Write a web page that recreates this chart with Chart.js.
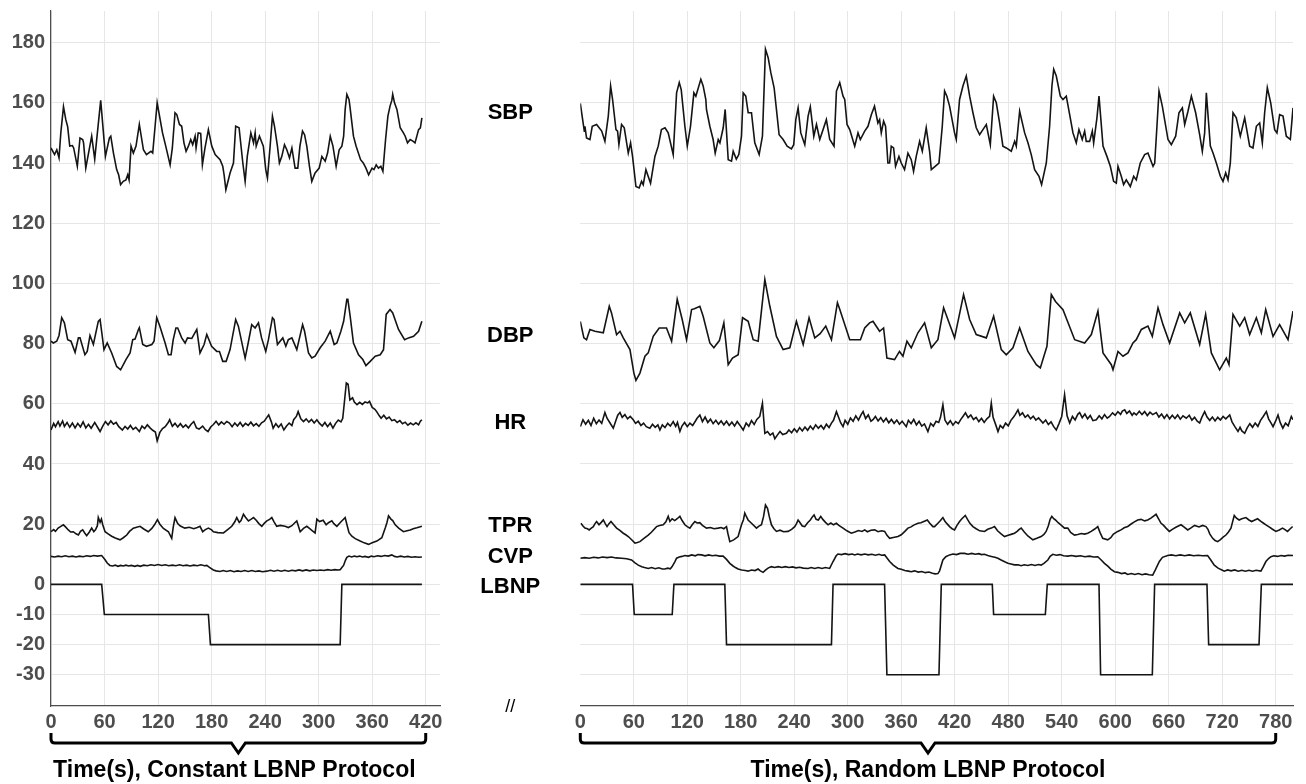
<!DOCTYPE html>
<html>
<head>
<meta charset="utf-8">
<title>Constant vs Random LBNP</title>
<script src="https://cdn.jsdelivr.net/npm/chart.js@4.4.1/dist/chart.umd.min.js"></script>
<style>
  body { margin: 0; background: #fff; }
  #wrap { position: relative; width: 1306px; height: 784px; }
  canvas { position: absolute; top: 0; }
  #cvLeft { left: 0; }
  #cvRight { left: 470px; }
</style>
</head>
<body>
<div id="wrap">
  <canvas id="cvLeft" width="450" height="784"></canvas>
  <canvas id="cvRight" width="836" height="784"></canvas>
</div>
<script>
// tick values
const yTickValues = [-30, -20, -10, 0, 20, 40, 60, 80, 100, 120, 140, 160, 180];
const leftTicksX = [0, 60, 120, 180, 240, 300, 360, 420];
const rightTicksX = [0, 60, 120, 180, 240, 300, 360, 420, 480, 540, 600, 660, 720, 780];

// labels in the middle and the level where they sit
const seriesNames = ["SBP", "DBP", "HR", "TPR", "CVP", "LBNP"];
const nameLevels = [156.5, 82.5, 53.7, 19.4, 9.1, -0.9];

// ---- constant protocol (time s, value) ----
const sbpLeft = [[0,145],[4,142.8],[6.5,144.4],[9,141.7],[11,150],[14,158.7],[16.6,154.4],[18.7,152],[21,145.6],[24,145.8],[25.4,145],[29.5,138.9],[32.5,148.3],[35.5,147.8],[36.5,146.7],[39,138.3],[45.6,148.9],[49,141.3],[55.7,160.8],[61,142.2],[65.4,148.3],[67,148.9],[70,143.3],[73.6,137.8],[75.8,136.1],[78,132.8],[81,133.9],[84,134.4],[86,136.1],[87.5,134.4],[89.7,145.6],[92.3,143.3],[95.3,145.6],[99,152.8],[103.6,144.4],[107,142.8],[112,143.9],[114,143.3],[119,160],[125,150],[128.6,145.6],[133.5,139.4],[136,145],[139,156.7],[141,156.1],[144,152.8],[146.5,152.2],[149,146.7],[151.4,143.9],[154,145.6],[156.6,147.8],[158.8,146.1],[161.5,148.9],[162.6,145],[165,150],[167.8,149.8],[169.7,139.4],[172.6,145],[176.4,151.1],[180.2,145.6],[184,142.8],[189.5,141.1],[192.5,138.9],[194,136.1],[196,131.1],[200.7,136.7],[204.5,140],[207,152.2],[210.8,151.7],[215,140],[217.6,133.9],[220,142.2],[224,150],[227,146.7],[228.8,150],[230,145.6],[233.6,148.9],[238,145.6],[240.7,137.8],[242.6,135],[245.6,145.6],[248.2,155.6],[250.5,152.2],[253.8,145.6],[256,140],[258.7,142.2],[261.7,146.1],[264.3,144.4],[267.3,141.7],[270,145],[273.6,138.3],[276.6,138.3],[279,145.6],[281.9,150.6],[284.2,149.4],[286.7,145.6],[289.7,138.9],[292.3,133.9],[296,136.7],[300.6,138.3],[303.6,142.2],[307.3,140.6],[310,143.3],[313,148.9],[316,145.6],[319.6,138.9],[323,144.4],[326,145.6],[328,148.9],[329.7,157.8],[331.6,162.8],[334,161.1],[335,158.9],[339,148.9],[342,145.6],[347,141.1],[350,140],[353,138.3],[356,136.1],[359.8,138.3],[362,137.8],[364.5,139.4],[367,138.3],[369.7,138.9],[372,137.2],[375,147.8],[377.6,155.6],[380,158.9],[382,160.8],[383,162.8],[385,160],[387.7,157.8],[391.4,151.7],[395,150],[397,148.9],[399.6,146.7],[402.6,147.8],[406,147.2],[408,146.7],[412,151.1],[414,151.7],[415.7,155]];
const dbpLeft = [[0,80.8],[2.6,80.2],[6.4,80.8],[9,82.7],[12,88.6],[15,86.9],[18.7,81.3],[22.4,80.8],[27,77.1],[30.7,81.9],[32.5,81.9],[38,76.3],[40.6,77.4],[43.7,82.7],[47.5,79.7],[53,87.4],[55,88],[59.4,78],[63,80.2],[68,76.9],[73.6,72.4],[78,71.3],[84,74.7],[88.6,76.9],[91.6,81.3],[94.2,81.5],[98,84.7],[99,85.3],[102.8,79.7],[107,79.1],[113,79.7],[115.5,80.8],[118.5,88.6],[122,85.8],[127.9,80.2],[131.6,76.3],[134.6,76.3],[137,81.3],[140,85.2],[142,85.2],[146.5,81.9],[150.3,80.2],[153,81.9],[157.8,81.7],[163.4,84.7],[167,76.9],[171.6,79.7],[174.6,83],[180,79.1],[185.8,77.4],[188.8,77.4],[192.5,74.1],[196.3,74.1],[200.7,78],[207,88],[210,85.8],[217.6,75.2],[221,80.2],[225,86.3],[228.8,85.2],[232.5,86.9],[236,81.9],[240.7,77.4],[243.7,81.3],[248.2,88.6],[250,88],[253.8,79.7],[259.8,81.9],[263.2,79.1],[266,81.3],[270,81.9],[275.5,78],[282,86.3],[284.2,84.1],[288.6,76.9],[292.3,75.2],[296,75.8],[301.7,78.6],[307.3,80.8],[313,84.1],[317.4,79.7],[320.4,80.2],[324.9,84.1],[328,87.4],[331.6,94.7],[332.7,94.7],[335.3,89.1],[339,80.2],[344.7,76.3],[349.5,74.7],[353,72.7],[357.8,74.1],[363.4,75.8],[369,76.3],[372.7,78],[375.7,89.7],[380,91.3],[383,90.2],[389.5,84.7],[396.3,81.3],[400.7,81.9],[406.4,82.4],[412,84.1],[415.7,87.4]];
const hrLeft = [[0,51.3],[3,53.5],[5,52.4],[8,54.1],[10,52.6],[13,54.3],[15,52.5],[18,53.8],[21,52.2],[24,53.6],[27,52],[30,53.5],[33,52.3],[36,54],[39,52],[42,53.2],[45,51.9],[49,53.8],[52,52.3],[55,50.8],[58,52.6],[61,54.1],[64,53],[67,54.3],[70,53.2],[73,53.8],[76,52.4],[80,51.3],[83,52.5],[86,51.6],[89,52.8],[92,51.5],[95,52.2],[99,50.8],[102,52.6],[105,51.8],[108,53],[111,52],[114,51.2],[117,50.6],[119,47.7],[122,50.5],[125,51.8],[128,52.4],[131,53.6],[133,54.7],[136,52.5],[139,53.5],[142,52.3],[145,53.4],[148,52.2],[151,53],[154,52],[157,53.2],[160,54.1],[163,52],[166,51.6],[170,52.6],[173,51.4],[176,50.8],[179,52.3],[182,53.1],[185,54.2],[188,53],[191,54],[194,53.2],[197,54.1],[200,53.6],[203,52.4],[206,53.6],[209,52.6],[212,53.8],[215,52.5],[218,53.5],[221,52.8],[224,53.9],[227,52.7],[230,53.4],[233,52.5],[236,53.7],[239,54.2],[242,55.5],[244,56.3],[247,54],[249,51.9],[252,53.4],[255,52.2],[258,53.3],[261,51.3],[264,52.6],[267,53.6],[270,52.8],[272,54.7],[275,55.8],[277,57.4],[280,55],[283,54.1],[286,55],[289,53.9],[292,54.8],[295,53.6],[298,54.7],[301,53.5],[304,52.6],[307,53.8],[310,52.4],[313,53.6],[316,51.9],[319,53.5],[322,54.6],[325,54],[327,55.2],[329,61],[331,66.9],[333,66.5],[335,61.3],[338,62],[340,60.6],[343,59.7],[346,60.5],[349,59.8],[352,60.6],[355,60.3],[357,60.8],[360,58.8],[363,58.2],[365,57.4],[368,56],[370,55.2],[373,56.2],[376,55],[379,55.6],[382,54.4],[385,54.7],[388,53.8],[391,54.4],[394,53.4],[397,53.9],[400,52.9],[403,53.6],[406,53],[409,53.7],[412,53],[414,54.2],[415.7,54.7]];
const tprLeft = [[0,17.5],[3,18.2],[5,17.6],[8,18.7],[11,19.3],[13.8,19.8],[16,19.2],[19.4,18.1],[22,17.4],[25,17.5],[28,16.8],[30.7,16.4],[33,17.6],[35.5,18.1],[38,17],[40,16.2],[43,17.4],[45.6,18.7],[48,17.5],[50,18.2],[52,19.5],[53,22.2],[55,20.6],[56.5,21.7],[58,19.8],[60.6,17.5],[64,16.8],[68,16],[72,15.4],[77.4,14.8],[81,15.5],[84.9,16.4],[88,17.6],[92.3,18.7],[96,19],[99.8,19.3],[104,18.4],[109,17.5],[113,18.6],[116,19.8],[119.3,21.5],[122,20],[126,18.6],[131.6,17.5],[135.3,15.3],[137,19],[139,22.2],[142,20.2],[145,19.4],[150,18.7],[155,19],[160,18.5],[164,18.9],[167,19.3],[170,17.5],[173,18.2],[176.4,18.7],[180,18.1],[182,17.5],[187,17.2],[193.3,17.1],[198,18.2],[202.6,19.3],[206,20.8],[208.2,22.2],[211,20.6],[213,21.2],[215.7,23.3],[218,22.3],[221.3,21.1],[224,21.6],[227,22.2],[230,21.3],[233,20.2],[236.3,19.3],[239,20.3],[241.9,21.1],[245,21.6],[247.5,22.2],[250,20.8],[253,19.3],[257,19.6],[262.4,19.3],[266,18.9],[270,19.5],[273,20.4],[275.5,21.1],[279.3,17.5],[283,18.6],[286.7,19.3],[290,18.5],[293,17.8],[296,17.1],[298,21.7],[301,20.9],[305,21.3],[308.4,19.8],[311,20.5],[314.8,21.1],[317,20.2],[320.4,19.3],[324,20.5],[327,21.4],[329.7,22.2],[332,19.5],[334,17.2],[337.2,16],[341,15.2],[346.5,14.4],[351,13.8],[355.9,13.3],[360,13.8],[365.2,14.4],[370.8,15.5],[374.6,18.7],[376.5,20.5],[378.3,22.8],[381,21.7],[383,21.2],[385.8,19.8],[390,18.6],[395.1,17.5],[399,17.8],[402.6,18.1],[406,18.5],[410,18.8],[413,19.1],[415.7,19.3]];
const cvpLeft = [[0,9.3],[4,9.1],[8,9.4],[12,9.2],[16,9.5],[20,9.2],[24,9.4],[28,9.1],[32,9.4],[36,9.2],[40,9.5],[44,9.3],[48,9.6],[52,9.4],[56.8,9.6],[60.6,8.2],[63,7.1],[66,6.3],[69,6.1],[72,6.4],[75,6],[78,6.3],[81,6.1],[84,6.4],[87,6.1],[90,6.3],[94,6],[97,6.3],[100,6],[104,6.4],[108,6.2],[112,6.5],[116,6.3],[120,6.6],[124,6.3],[128,6.5],[132,6.2],[136,6.4],[140,6.2],[144,6.5],[148,6.2],[152,6.4],[156,6.1],[160,6.4],[164,6.2],[168,6.5],[172,6.2],[174.6,6.3],[178,5.6],[182,4.8],[185,4.5],[189.5,4.3],[193,4.6],[197,4.3],[201,4.6],[205,4.2],[209,4.5],[213,4.3],[217,4.6],[221,4.3],[225,4.6],[229,4.3],[233,4.5],[237,4.2],[242,4.4],[246,4.7],[250,4.4],[254,4.7],[258,4.4],[262,4.7],[266,4.4],[270,4.7],[274,4.5],[278,4.8],[282,4.5],[286,4.8],[290,4.5],[294,4.8],[298,4.6],[302,4.8],[306,4.6],[310,4.9],[314,4.7],[318,4.9],[322,4.8],[324.1,4.9],[326,5.6],[327.9,6.3],[330,8],[331.6,9],[334,9.4],[337,9.1],[340,9.4],[343,9.2],[346,9.4],[349,9.1],[352,9.3],[355.9,9],[359,9.4],[362,9.2],[366,9.5],[370,9.3],[374,9.6],[378,9.4],[382,9.8],[385,9.3],[388,9.1],[392,9.4],[396,9.1],[400,9.3],[404,9],[408,9.2],[412,9],[415.7,9.1]];
const lbnpLeft = [[0,0],[56.8,0],[59.8,-10],[176.4,-10],[178.7,-20],[324.1,-20],[326,0],[415.7,0]];

// ---- random protocol ----
const sbpRight = [[0,159.8],[3.4,152.8],[4.5,150.6],[5.2,152.2],[7,148.3],[10.8,147.8],[13.4,152.2],[18.3,152.8],[24,150.6],[27.6,147.2],[31.4,155.6],[34,165.6],[36.2,161.1],[40,151.1],[41.8,150.6],[43.3,146.1],[46.3,152.8],[49.3,151.7],[53.8,143.3],[56.4,146.7],[58.6,142.2],[62.4,132.2],[66,131.7],[68.7,133.9],[70.6,132.8],[73.6,137.8],[78.8,133.3],[83.7,142.2],[87.4,145.6],[91,151.1],[95,151.7],[98.6,150],[104.2,142.8],[108,163.3],[111,166.7],[113.2,164.4],[117.3,152.2],[120,145.6],[123.6,152.2],[127.4,163.3],[129.6,162.2],[135.2,167.8],[137.8,165.6],[140.8,161.1],[141.5,157.8],[145.3,152.2],[149,147.8],[151.3,143.3],[154.7,147.8],[156.6,146.7],[160.3,151.7],[162.5,157.8],[165.9,141.1],[169.6,140.6],[171.5,143.9],[175,141.3],[177.8,142.8],[180.8,148.9],[182.7,163.3],[185.6,162.2],[188.3,156.7],[192,156.7],[195.7,146.7],[200.6,142.8],[204.3,148.9],[207.7,177.8],[210.7,175],[213.7,170],[217.4,165],[220,157.8],[223,149.4],[227.5,147.8],[232,145.6],[236.8,144.7],[239.4,146.1],[241.7,154.4],[244.3,158.3],[247.3,150],[251.8,146.1],[255.5,155.6],[258,158.7],[261.9,148.9],[264.9,152.8],[268.6,147.8],[276,154.4],[279.8,147.8],[284.6,145.6],[287.3,163.9],[291,166.7],[294.7,162.2],[296.6,161.1],[299.2,152.8],[302.2,151.1],[307.8,145.6],[311.5,150],[314.1,147.8],[319,150.6],[322.7,152.2],[326.5,156.1],[330,158.9],[333.8,153.3],[335.7,154.4],[337.6,150],[340.2,153.9],[342.4,152.2],[345,140],[346.9,140],[348.8,145.6],[351.4,145],[353.6,138.9],[357.4,142.2],[360,140],[363.7,137.8],[367.5,143.3],[371.2,141.1],[373.8,137.2],[376.8,142.2],[380.6,147.2],[383.6,143.9],[388,151.7],[391.8,143.9],[393.7,137.8],[398,138.9],[402.3,140],[406,152.2],[408.6,163.9],[411.2,162.2],[414.2,158.9],[419.8,150],[421.7,147.8],[425.4,161.1],[429.2,165.6],[432.9,168.9],[436.7,162.2],[440.4,156.7],[444.1,151.7],[447.9,149.4],[451.6,151.1],[455.4,152.8],[459.9,146.1],[463.6,162.2],[466.6,160],[470.3,153.3],[474,145.6],[477.8,145],[483.4,143.9],[487.2,147.2],[489,145.6],[492.8,157.2],[498.4,150],[502.1,146.7],[505.8,142.8],[509.6,137.8],[514.5,135.6],[517.4,132.8],[522.7,140],[526.4,152.2],[529,165.6],[531,171.1],[533.9,168.9],[538.4,162.2],[541.4,161.1],[545.1,162.2],[548.9,156.1],[552.6,150],[556.3,146.7],[559.3,151.1],[563,147.8],[565.7,150.6],[567.5,147.2],[571.3,147.2],[574.3,150.6],[575.8,146.7],[579.5,155],[581.8,162.2],[586.3,145.6],[590.7,142.2],[594.5,138.9],[598.2,133.9],[601.2,133.3],[603.1,138.9],[606.8,135.6],[609.4,132.8],[612.4,134.4],[616.9,132.2],[620.7,135.6],[623.6,134.4],[628.1,140],[633,142.8],[636.7,143.3],[642.4,138.9],[644.3,140],[646.8,152.2],[649.1,163.9],[652.8,158.9],[659.2,147.8],[662.9,146.1],[667.8,148.9],[671.5,156.7],[675.3,158.3],[677.9,152.8],[681.6,157.2],[685.4,162.2],[690.2,156.7],[694.7,149.4],[697.7,143.9],[700.3,150],[702.2,163.3],[706.7,145.6],[709.7,143.3],[713.4,140],[717.9,135.6],[720.9,133.9],[723.9,136.7],[726.5,134.4],[729.1,140],[732.1,156.7],[735.8,155],[740.3,148.9],[745.2,155],[750.8,145.6],[754.5,145],[758.3,152.2],[762,153.3],[765,146.7],[767.6,156.7],[770.6,165],[774.4,160],[778.8,151.1],[781.4,150],[784.4,156.1],[788.2,155.6],[791.9,148.9],[796.4,147.8],[799.4,158.3]];
const dbpRight = [[0,87.4],[4,81.9],[7,81.3],[10.8,84.7],[16.4,84.1],[25.8,83.6],[32.5,92.4],[35,90.2],[40.7,83],[44.5,84.1],[48.2,81.9],[55.7,78],[60.1,70.2],[62.4,67.8],[66.9,70.2],[72.5,75.8],[76.2,76.9],[81.8,82.4],[88.5,85.2],[96.7,85.2],[102.4,80.8],[108.7,94.7],[114.3,88],[119.2,81.3],[124.8,91.3],[128,91.6],[134.1,92.4],[137.8,89.1],[145.3,80.2],[149.8,78.6],[156,81],[161,86.9],[165.9,73],[170.7,75.2],[177.1,76.3],[182,88.6],[188.3,87.4],[193.9,81.3],[199.5,80.8],[207,101.3],[212.6,92.4],[220,82.4],[227.5,78],[235,78.6],[242.4,87.4],[250,79.7],[256.6,88.6],[263,81.9],[269,83.3],[275.3,85.8],[281.7,81.3],[288.4,93.6],[291,91.4],[302.2,81.3],[314.2,81.3],[319,85.2],[324.5,86.9],[328.3,87.4],[335.7,84.1],[340.2,85.2],[343.9,75.2],[352.5,74.7],[358,77.4],[361.9,75.8],[366.4,80.8],[371.2,78.6],[378.7,83.6],[386.2,86.9],[393.7,78.6],[401.1,81.3],[407.5,91.9],[419.8,81.9],[429.9,96.3],[436.7,88],[444.1,83],[455.4,81.9],[463.6,89.1],[472.2,78],[477.8,76.3],[485.3,78.6],[492.8,85.2],[502.1,77.4],[511.5,73],[516,71.9],[523.4,79.1],[528.3,96.3],[533,94],[541.4,91.3],[554.5,81.3],[565.7,80.2],[573.2,83],[580.6,90.8],[586.3,76.9],[595.6,73],[597.5,71.3],[603.1,77.4],[608.7,75.8],[614.3,76.9],[619.9,80.2],[623.6,81.3],[629.3,84.7],[636.7,85.8],[641.6,82.4],[648,91.9],[653.6,86.3],[661,80.2],[672.3,90.2],[677.9,86.9],[684.2,90.2],[694.7,79.7],[701.4,89.7],[707.8,76.9],[717.1,71.3],[724.6,75.2],[727.6,73],[732.1,89.7],[739.6,85.8],[745.2,88.6],[750.8,83],[758.3,88.6],[763.9,83.6],[768.8,91.3],[777,82.4],[784.4,86.3],[793.8,81.3],[799.4,90.8]];
const hrRight = [[0,52.4],[3,54.7],[6,53.2],[9,54.5],[12,52.8],[15,55.2],[18,53.4],[21,54.6],[24,53.5],[27.6,57.1],[30,55.2],[33,53.8],[37,51.9],[40,54.5],[42,56.2],[44.5,57.1],[47,55.5],[50,56.4],[53,55],[56,55.8],[59.4,54.7],[62,53.5],[65,54.2],[68,52.8],[71,53.6],[74,52.4],[78,51.9],[81,53.2],[84,52.2],[87,53],[89.3,51.3],[92,53],[95,52.1],[98,53.5],[101,52.6],[104.2,54.1],[107,52.5],[109,53.8],[111.7,50.8],[114,52.6],[117,53.8],[120,52.4],[123,53.6],[126,52.8],[129,54.2],[131,55.2],[134.1,56.3],[137,54.1],[140,55.6],[143,53.8],[146,54.9],[149,53.4],[152,54.5],[155,53.2],[158,54.3],[161,53],[164,54.2],[167,52.8],[170,53.9],[173,52.6],[176,54.1],[179,52.9],[182.7,51.3],[186,53.6],[189,52.5],[192,54.4],[195,53.1],[198,54.8],[201.3,55.8],[204.3,60.2],[207,50.2],[210,50.8],[213,49.6],[216,50.3],[218.2,48.4],[221,49.6],[224,50.8],[227,49.8],[231.2,50.2],[234,51.3],[237,50.4],[240,51.7],[243,50.6],[246,52.1],[249,51],[252,52.3],[255,51.2],[258,52.6],[261,51.5],[264,53],[267,51.9],[270,52.8],[273,51.6],[276,53.2],[279,52.1],[281.7,53.6],[284,54.5],[287.3,57.4],[290,55.3],[292,53.7],[294.7,52.4],[297,54.5],[300,53.2],[303,55.3],[306,54.2],[309,56],[312,54.6],[315,56.4],[317.2,57.4],[320,55.1],[323,56.3],[326,54.2],[328.3,54.7],[331,55.8],[334,54.3],[337,55.4],[340,54],[343,55.2],[346,53.7],[349,54.8],[352,53.5],[355,54.6],[358,53.2],[361,54.2],[365.6,52.4],[368,54.5],[371,53.4],[374,54.8],[377,53],[380,54.2],[383,52.6],[386,53.3],[389.9,50.8],[393,53.5],[396,52.6],[399,54.2],[402,53.8],[404,55.5],[406.7,59.7],[409,54.6],[412,53.2],[415,54.4],[418,52.9],[421,54.1],[424,53.4],[427,54.9],[429.2,55.8],[432,57],[435,55.4],[438,56.3],[441,54.8],[444,55.5],[447,54.1],[450,55.2],[453,53.8],[456,55],[459.1,55.8],[461,60.2],[463,55.5],[466,53],[468.5,50.8],[471,52.8],[474,51.9],[477,53.6],[480,52.7],[483,54.5],[486,55.6],[488,56.5],[490.9,58],[493,56.2],[496,57],[499,55.5],[502,56.3],[505,55],[508,55.9],[511,54.6],[514,55.3],[518.9,53.6],[522,54.6],[525,53.1],[528,54],[531,52.4],[533.9,51.3],[537,53.5],[540,55.8],[543.2,63],[546,56],[548.9,53.6],[552,55.8],[555,54.6],[558,56.5],[560.1,57.1],[563,55.4],[566,56.6],[569,55],[572,56.1],[575,54.4],[578.8,54.7],[582,56],[585,55],[588,56.4],[591,55.2],[593.7,55.8],[597,57],[600,56.2],[603,57.4],[606,56.5],[608,57.6],[610.6,58],[613,56.8],[616,57.6],[619,56.2],[621,57],[623.7,56.3],[627,57.5],[630,56.4],[633,57.4],[636,56.1],[639,57.2],[642,56.4],[646.1,57.1],[649,55.6],[652,56.6],[655,55.2],[658,56.4],[661,55],[664,56.2],[667,55.1],[670,56.3],[673,54.9],[676,56],[679.7,55.2],[683,56.2],[686,54.6],[689,55.5],[692,54.2],[694.7,53.6],[697,55.4],[700.3,57.4],[703,55.6],[706,54.5],[709,55.6],[712,54.3],[715,55.5],[718,54.6],[721,55.8],[724,55],[728.4,56.3],[731,54],[734,52.5],[737.7,50.8],[740,52.2],[742,51],[745.2,50.2],[748,52],[751,53.4],[754,52.2],[757,53.6],[760,52.5],[763,54.5],[766,55.8],[769.5,57.4],[772,55],[775,53.5],[777,52.4],[780,54.3],[782.6,56.3],[785,53.8],[788,51.9],[791,53.6],[794,52.7],[797.5,55.8],[799.4,54.7]];
const tprRight = [[0.7,20.3],[3,19.4],[5.2,18.7],[8,18.5],[10,18.1],[12,18.6],[14.6,19.2],[16.5,20.2],[18.3,20.9],[21,19.8],[23.5,20.6],[25.8,21.4],[28,20.2],[30,19.2],[32,20.1],[34.4,20.9],[37,20],[40.7,18.7],[44,18],[48.2,17],[51,16.5],[53.8,15.9],[57,15],[61.3,13.7],[64,13.9],[66.9,14.2],[71,15.2],[76.2,16.4],[80,17.4],[85.5,19.2],[89,19.6],[93,19.8],[96,20.8],[98.6,22.6],[100.5,20.9],[103,21.8],[106,21.2],[109,21.9],[111.7,22.6],[114,21.3],[117.3,19.8],[120,19.2],[122.9,18.7],[125.5,19.8],[128.5,20.9],[131,20.4],[134,20.5],[137,19.6],[141.5,18.7],[146,18.9],[150,18.5],[154.6,18.7],[158,18.9],[161,18.5],[164,19.2],[165.5,17],[167.7,14.2],[172,14.8],[177,15.9],[180.8,19.8],[183,21.5],[184.5,23.7],[186.5,22.4],[188.2,21.4],[192,20.3],[197.6,18.7],[200,19.3],[203.2,19.8],[205.5,22.5],[207.7,26.4],[210,25.3],[212,22.5],[214.4,19.8],[217,18.6],[220,17.6],[224,18],[228,17.5],[233,17.6],[237,18.3],[240.5,19.2],[242.5,20.2],[244.3,21.4],[246.5,20.5],[249,19.4],[251.7,19.2],[255,20.5],[258,21.4],[260.5,22.5],[262.2,23.1],[264.5,21.6],[267,21.4],[269.7,22.6],[272,21.6],[275,20.6],[277.9,19.8],[281,20.4],[284,19.8],[287.2,20.3],[290,19.6],[294.7,18.7],[299,17.8],[304,17],[308,17.4],[312,17.9],[316,17.6],[319,18.1],[322,17.5],[326,18],[330.2,18.1],[334,17.5],[338,17.8],[341.4,17.6],[344,16.3],[347,15.3],[351,15.6],[356.3,15.9],[360,16.5],[364,17.6],[367.5,18.7],[371,19.1],[374,19.7],[378.7,20.3],[382,20.5],[386,21],[389.2,21.4],[392,20.3],[395.5,19.2],[397.4,19.2],[401.1,20.3],[404,21.2],[406.7,22.2],[409,21],[411.5,20.1],[414.2,19.2],[417,18.5],[419.8,18.1],[422.5,19.6],[425.4,20.9],[428,21.8],[431.8,22.9],[434.5,21.5],[437,20.3],[440.4,19.2],[444,18.5],[448,17.8],[453.4,17.6],[457,18.3],[461,18.7],[464.6,19.2],[468,17.8],[472,16.8],[475.8,15.9],[480,16.3],[484,16.7],[487,17],[490,17.6],[492,18.2],[494.5,18.7],[498,17.4],[502,16.1],[507.6,14.8],[512,15.3],[516.9,15.9],[520,16.6],[522.5,17.6],[525,19.5],[527,21.6],[528.9,22.6],[531,21.8],[533,21.4],[536,20.5],[539,19.8],[543.1,18.7],[546.8,18.7],[550,17.3],[554.3,16.4],[558,16.6],[562,16.9],[565.5,16.7],[569.2,17],[573,17.6],[577,18.4],[580.4,19.2],[583,17.2],[586,15.3],[591.6,14.8],[595,15.5],[598,16.7],[602.8,17.6],[607,18.2],[610,18.8],[614,19.2],[617,19.9],[621,20.7],[625.2,21.4],[629,21.6],[633,21.1],[636.4,21.4],[640,22],[643,22.7],[645.8,23.3],[648,22.1],[651.4,20.3],[654,19.7],[657,18.7],[660.7,17.6],[664,18.3],[668,19],[673.8,19.8],[677,19.1],[681.3,18.1],[685,18.8],[689,19.6],[694,19.1],[698,19.6],[701.8,19.2],[704,18.3],[706,16.8],[709.3,15.3],[712,14.6],[714.9,14.2],[718,14.9],[721,15.7],[724.2,16.4],[727,17.4],[729.8,18.7],[731.5,20.6],[733.5,22.9],[736,22],[739,21.4],[742,21.8],[746.6,22.2],[750,21.4],[753,20.9],[756,21.3],[759.7,21.8],[763,21],[766,20.4],[769,19.8],[773,19],[776,18.4],[780.2,17.6],[784,18.1],[787.7,18.7],[790,18.3],[793.3,17.6],[796,18.4],[799,19.2]];
const cvpRight = [[0,8.7],[5,8.9],[10,8.7],[15,9],[20,8.8],[25,9.1],[30,8.9],[35,9.1],[40,8.8],[46.3,8.7],[52,8.5],[57.5,8.1],[61,7.2],[65,6.4],[69,5.9],[72,5.6],[76.2,5.3],[80,5.6],[84,5.2],[88,5.5],[92,5.1],[94.9,5.1],[98,5.4],[101,5.2],[103,5.9],[106,7.5],[108,8.7],[111,9.1],[114,9.3],[117.3,9.6],[121,9.4],[125,9.8],[129,9.5],[132,9.9],[136,9.8],[140,9.5],[144,9.8],[148,9.5],[152,9.7],[156,9.4],[160.2,9.4],[164,8.3],[167.7,7],[171,6.2],[174,5.6],[177,5.1],[181,4.8],[185,4.6],[188.2,4.4],[192,4.8],[196,4.6],[199.4,5.1],[202,4.5],[205,4],[208,4.8],[211,5.5],[214.4,5.9],[218,5.6],[222,5.9],[226,5.6],[230,5.9],[234,5.6],[238,5.8],[242,5.5],[246,5.7],[250,5.4],[255.5,5.3],[259,5.6],[263,5.3],[267,5.6],[271,5.3],[275,5.6],[279.7,5.3],[283.5,7.6],[287,9.5],[289,10.1],[293,9.9],[297,10.2],[301,9.9],[305,10.1],[307.7,9.8],[311,10.1],[315,9.8],[319,10.1],[323,9.8],[327,10],[331,9.7],[335,10],[338,9.7],[341.4,9.8],[344,8.8],[347,7.6],[351,6.4],[356.3,5.3],[360,5],[364,4.6],[368,4.4],[371.2,4.2],[375,4.5],[379,4.1],[383,4.3],[387,3.9],[391,4.1],[395,3.7],[398,3.5],[401.1,3.6],[403,4.5],[406.7,8.1],[410,9.2],[414.2,9.8],[418,10.1],[422,9.9],[426,10.3],[431,10.3],[435,10],[439,10.3],[443,10],[447,10.2],[450,9.9],[453.4,10],[457,9.6],[461,9.3],[465,9],[468.4,8.7],[472,8.1],[476,7.5],[479.6,7],[483,6.8],[487,6.5],[491,6.5],[494.5,6.2],[498,6.5],[502,6.3],[506,6.6],[510,6.3],[514,6.6],[516.9,6.4],[520,7],[524.4,8.1],[527,9.3],[530,10],[534,9.7],[538,9.9],[542,9.5],[546.8,9.4],[551,9.6],[556,9.3],[561,9.5],[566,9.2],[571,9.4],[576,9.1],[580.4,9.2],[584,8.2],[587.9,7],[592,6],[595,5.1],[599.1,4.2],[603,4],[607,3.6],[611,3.8],[614,3.3],[618,3.6],[622,3.3],[626,3.6],[630,3.2],[634,3.5],[638,3.2],[642,3.1],[645,4.8],[649.5,7.6],[653,9],[658.8,9.6],[663,9.8],[668,9.5],[673,9.8],[678,9.5],[683,9.8],[688,9.5],[693,9.7],[698,9.5],[703.6,9.6],[707,8.2],[711.1,6.4],[715,5.5],[718,5],[722.3,4.4],[726,4.8],[730,4.5],[734,4.8],[738,4.4],[742,4.7],[746,4.4],[750,4.7],[754,4.4],[758,4.7],[763.4,4.4],[766,5.8],[769,7.6],[772,8.6],[774.6,9.2],[778,9.5],[782,9.3],[786,9.6],[790,9.4],[794,9.7],[799.4,9.6]];
const lbnpRight = [[0,0],[58.6,0],[60.5,-10],[103.1,-10],[105,0],[162.1,0],[164,-20],[281.7,-20],[283.5,0],[341.3,0],[343.9,-30],[402.3,-30],[404.9,0],[462.1,0],[463.6,-10],[521.6,-10],[523.8,0],[581.8,0],[583.6,-30],[641.6,-30],[644.2,0],[702.9,0],[704.8,-20],[761.3,-20],[763.9,0],[799.4,0]];

const FONT = "'Liberation Sans', Arial, sans-serif";
const gridColor = "#e6e6e6";

// curly brace under the x axis, with the axis caption below it
const bracePlugin = {
  id: "brace",
  afterDraw(chart, args, opts) {
    const ctx = chart.ctx;
    const xs = chart.scales.x;
    const xL = xs.getPixelForValue(opts.from);
    const xR = xs.getPixelForValue(opts.to);
    const xc = (xL + xR) / 2;
    const b = chart.chartArea.bottom;
    const y0 = b + 27, y1 = b + 37, y2 = b + 47;
    ctx.save();
    ctx.strokeStyle = "#000";
    ctx.lineWidth = 3;
    ctx.lineJoin = "miter";
    ctx.beginPath();
    ctx.moveTo(xL, y0);
    ctx.lineTo(xL, y1 - 4);
    ctx.quadraticCurveTo(xL, y1, xL + 4, y1);
    ctx.lineTo(xc - 7, y1);
    ctx.lineTo(xc, y2);
    ctx.lineTo(xc + 7, y1);
    ctx.lineTo(xR - 4, y1);
    ctx.quadraticCurveTo(xR, y1, xR, y1 - 4);
    ctx.lineTo(xR, y0);
    ctx.stroke();

    ctx.fillStyle = "#000";
    ctx.font = "bold 23px " + FONT;
    ctx.textAlign = "center";
    ctx.textBaseline = "middle";
    ctx.fillText(opts.caption, xc + opts.shift, b + 65);
    ctx.restore();
  }
};

// series names between the two panels
const namesPlugin = {
  id: "names",
  afterDraw(chart) {
    const ctx = chart.ctx;
    const ys = chart.scales.y;
    const x = chart.chartArea.left - 70;
    ctx.save();
    ctx.fillStyle = "#000";
    ctx.textAlign = "center";
    ctx.textBaseline = "middle";
    ctx.font = "bold 22px " + FONT;
    seriesNames.forEach((n, i) => ctx.fillText(n, x, ys.getPixelForValue(nameLevels[i])));
    ctx.font = "18px " + FONT;
    ctx.fillText("//", x, chart.chartArea.bottom + 1);
    ctx.restore();
  }
};

function makeChart(id, series, xMax, xTicks, opt) {
  const datasets = series.map((s) => ({
    data: s,
    borderColor: "#141414",
    borderWidth: 1.6,
    pointRadius: 0,
    tension: 0,
    fill: false,
  }));
  return new Chart(document.getElementById(id), {
    type: "line",
    data: { datasets: datasets },
    plugins: opt.plugins,
    options: {
      responsive: false,
      animation: false,
      devicePixelRatio: 1,
      layout: { autoPadding: false, padding: { top: 11, right: opt.padRight, bottom: 0, left: 0 } },
      plugins: {
        legend: { display: false },
        tooltip: { enabled: false },
        brace: { from: 0, to: xTicks[xTicks.length - 1], caption: opt.title, shift: opt.shift },
      },
      scales: {
        x: {
          type: "linear",
          min: 0,
          max: xMax,
          afterBuildTicks: (ax) => { ax.ticks = xTicks.map((v) => ({ value: v })); },
          afterFit: (ax) => { ax.height = 78; ax.paddingLeft = 0; ax.paddingRight = 0; },
          grid: {
            color: (c) => (opt.showY || c.tick.value !== 0 ? gridColor : "rgba(0,0,0,0)"),
            lineWidth: 1,
            drawTicks: false,
          },
          border: { display: true, color: "#4d4d4d", width: 1.2 },
          ticks: {
            padding: 4,
            maxRotation: 0,
            autoSkip: false,
            color: "#4d4d4d",
            font: { family: FONT, size: 20, weight: "bold" },
          },
        },
        y: {
          min: -40.4,
          max: 190.5,
          afterBuildTicks: (ax) => { ax.ticks = yTickValues.map((v) => ({ value: v })); },
          afterFit: (ax) => { ax.width = opt.yWidth; ax.paddingTop = 0; ax.paddingBottom = 0; },
          grid: { color: gridColor, lineWidth: 1, drawTicks: false },
          border: { display: opt.showY, color: "#4d4d4d", width: 1.2 },
          ticks: {
            display: opt.showY,
            padding: 6,
            color: "#4d4d4d",
            font: { family: FONT, size: 20, weight: "bold" },
            callback: (v) => String(v),
          },
        },
      },
    },
  });
}

makeChart("cvLeft", [sbpLeft, dbpLeft, hrLeft, tprLeft, cvpLeft, lbnpLeft], 436, leftTicksX, {
  title: "Time(s), Constant LBNP Protocol",
  shift: -4,
  padRight: 10,
  yWidth: 51,
  showY: true,
  plugins: [bracePlugin],
});

makeChart("cvRight", [sbpRight, dbpRight, hrRight, tprRight, cvpRight, lbnpRight], 799.4, rightTicksX, {
  title: "Time(s), Random LBNP Protocol",
  shift: 0,
  padRight: 13,
  yWidth: 110.3,
  showY: false,
  plugins: [bracePlugin, namesPlugin],
});
</script>
</body>
</html>
